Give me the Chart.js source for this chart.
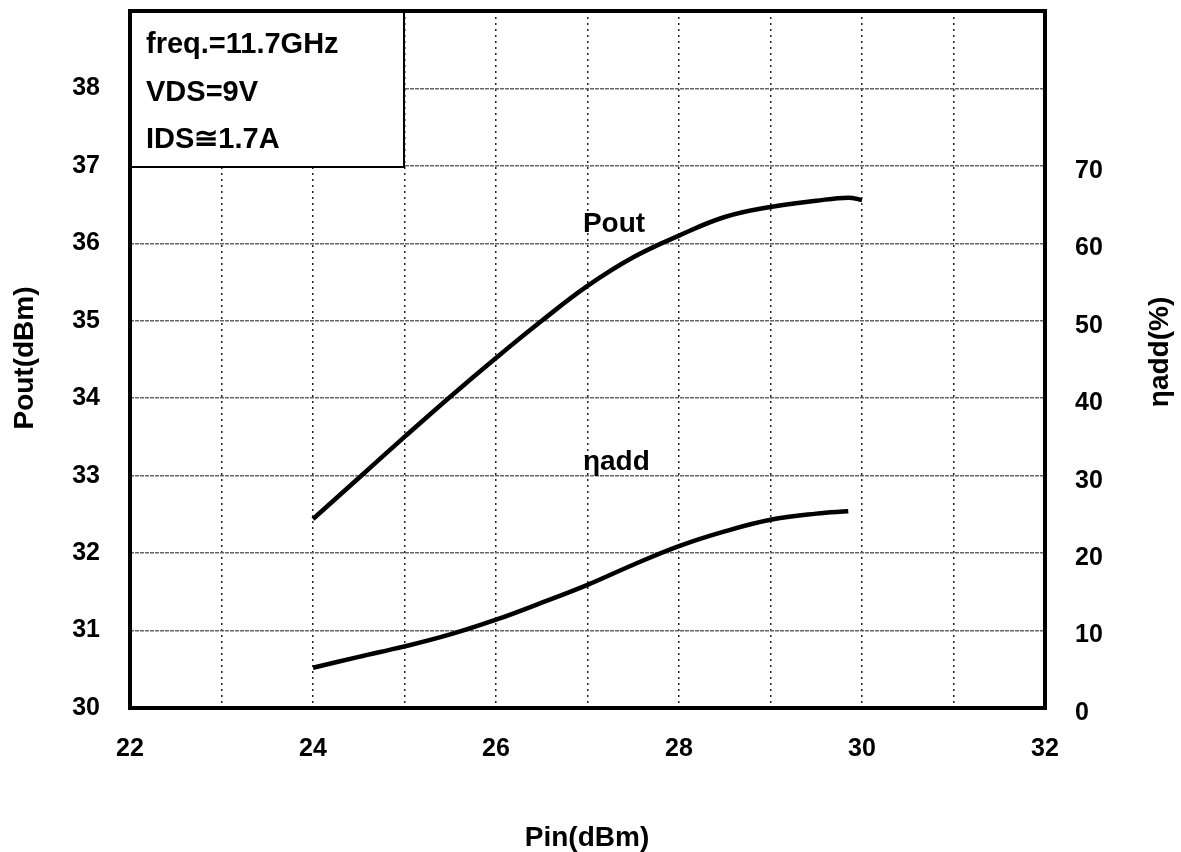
<!DOCTYPE html>
<html>
<head>
<meta charset="utf-8">
<script src="https://cdn.jsdelivr.net/npm/chart.js@4"></script>
<style>
    html, body { margin: 0; padding: 0; background: #fff; }
    canvas { display: block; }
</style>
</head>
<body>
<canvas id="pout-chart" width="1181" height="852"></canvas>
<script>
// values
var pinPout = [24, 24.5, 25, 25.5, 26, 26.5, 27, 27.5, 28, 28.5, 29, 29.5, 29.85, 30];
var pout = [32.44, 32.97, 33.5, 34.02, 34.52, 35.0, 35.45, 35.82, 36.1, 36.34, 36.47, 36.55, 36.59, 36.56];

var pinEta = [24, 24.5, 25, 25.5, 26, 26.5, 27, 27.5, 28, 28.5, 29, 29.5, 29.85];
var eta = [5.2, 6.6, 7.95, 9.5, 11.4, 13.6, 15.9, 18.5, 20.9, 22.8, 24.3, 25.1, 25.4];

var conditions = ['freq.=11.7GHz', 'VDS=9V', 'IDS\u22451.7A'];
var xTitle = 'Pin(dBm)',
    yTitle = 'Pout(dBm)',
    y2Title = '\u03b7add(%)';

var FONT = '"Liberation Sans", Arial, sans-serif';

function toPoints(xs, ys) {
    return xs.map(function (x, i) {
        return {x: x, y: ys[i]};
    });
}

// keep the plot frame where the reference has it
function fixWidth(w) {
    return function (scale) {
        scale.width = w;
        scale.paddingTop = 0;
        scale.paddingBottom = 0;
    };
}

// frame, conditions box, curve labels and axis titles
var decorations = {
    id: 'decorations',
    beforeDatasetsDraw: function (chart) {
        var ctx = chart.ctx,
            area = chart.chartArea;
        ctx.save();
        ctx.fillStyle = '#fff';
        ctx.fillRect(area.left, area.top, 274, 156);
        ctx.strokeStyle = '#000';
        ctx.lineWidth = 2;
        ctx.strokeRect(area.left, area.top, 274, 156);
        ctx.fillStyle = '#000';
        ctx.font = 'bold 29px ' + FONT;
        ctx.textBaseline = 'alphabetic';
        ctx.textAlign = 'left';
        conditions.forEach(function (t, i) {
            ctx.fillText(t, 146, 53 + i * 47.5);
        });
        ctx.restore();
    },
    afterDraw: function (chart) {
        var ctx = chart.ctx,
            area = chart.chartArea,
            x = chart.scales.x,
            y = chart.scales.y;
        ctx.save();
        ctx.strokeStyle = '#000';
        ctx.lineWidth = 4;
        ctx.strokeRect(area.left, area.top, area.right - area.left, area.bottom - area.top);

        ctx.fillStyle = '#000';
        ctx.font = 'bold 28px ' + FONT;
        ctx.textAlign = 'left';
        ctx.textBaseline = 'middle';
        ctx.fillText('Pout', x.getPixelForValue(26.95), y.getPixelForValue(36.24));
        ctx.fillText('\u03b7add', x.getPixelForValue(26.95), y.getPixelForValue(33.17));

        ctx.textAlign = 'center';
        ctx.fillText(xTitle, 587, 838);

        ctx.translate(25, 358);
        ctx.rotate(-Math.PI / 2);
        ctx.fillText(yTitle, 0, 0);
        ctx.restore();

        ctx.save();
        ctx.fillStyle = '#000';
        ctx.font = 'bold 28px ' + FONT;
        ctx.textAlign = 'center';
        ctx.textBaseline = 'middle';
        ctx.translate(1160, 352);
        ctx.rotate(-Math.PI / 2);
        ctx.fillText(y2Title, 0, 0);
        ctx.restore();
    }
};

var tickFont = {family: FONT, size: 25, weight: 'bold'};

var config = {
    type: 'line',
    data: {
        datasets: [{
            label: 'Pout',
            data: toPoints(pinPout, pout),
            yAxisID: 'y',
            borderColor: '#000',
            borderWidth: 4.5,
            pointRadius: 0,
            fill: false,
            tension: 0.4
        }, {
            label: '\u03b7add',
            data: toPoints(pinEta, eta),
            yAxisID: 'y2',
            borderColor: '#000',
            borderWidth: 4.5,
            pointRadius: 0,
            fill: false,
            tension: 0.4
        }]
    },
    options: {
        responsive: false,
        animation: false,
        devicePixelRatio: 1,
        layout: {
            padding: {top: 11, left: 0, right: 0, bottom: 0}
        },
        plugins: {
            legend: {display: false},
            tooltip: {enabled: false}
        },
        scales: {
            x: {
                type: 'linear',
                min: 22,
                max: 32,
                afterFit: function (scale) { scale.height = 144; },
                ticks: {
                    stepSize: 1,
                    color: '#000',
                    font: tickFont,
                    padding: 26,
                    maxRotation: 0,
                    autoSkip: false,
                    // labels only on even values, grid line on every one
                    callback: function (value) {
                        return value % 2 === 0 ? String(value) : '';
                    }
                },
                grid: {
                    color: '#222',
                    lineWidth: 1.5,
                    drawTicks: false
                },
                border: {display: false, dash: [2, 4]}
            },
            y: {
                position: 'left',
                min: 30,
                max: 39,
                afterFit: fixWidth(130),
                ticks: {
                    stepSize: 1,
                    color: '#000',
                    font: tickFont,
                    padding: 30,
                    callback: function (value) {
                        return value < 39 ? String(value) : '';
                    }
                },
                grid: {
                    color: '#666',
                    lineWidth: 1.5,
                    drawTicks: false
                },
                border: {display: false, dash: [4, 1]}
            },
            y2: {
                position: 'right',
                min: 0,
                max: 90,
                afterFit: fixWidth(136),
                ticks: {
                    stepSize: 10,
                    color: '#000',
                    font: tickFont,
                    padding: 30,
                    labelOffset: 5,
                    callback: function (value) {
                        return value <= 70 ? String(value) : '';
                    }
                },
                grid: {display: false, drawTicks: false},
                border: {display: false}
            }
        }
    },
    plugins: [decorations]
};

new Chart(document.getElementById('pout-chart'), config);
</script>
</body>
</html>
